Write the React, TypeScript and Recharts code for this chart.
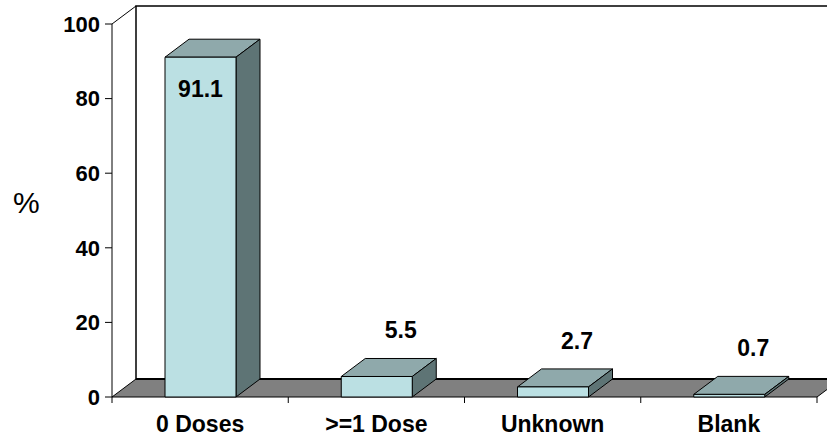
import React from 'react';
import { BarChart, Bar, XAxis, YAxis, ReferenceArea, LabelList } from 'recharts';

const categories = ['0 Doses', '>=1 Dose', 'Unknown', 'Blank'];
const percentValues = [91.1, 5.5, 2.7, 0.7];
const yTicks = [0, 20, 40, 60, 80, 100];
const yAxisLabel = '%';

const data = categories.map((c, i) => ({ name: c, value: percentValues[i] }));

const DX = 24;
const DY = -18;
const FONT = '"Liberation Sans", Arial, Helvetica, sans-serif';

function Bar3D(props: any) {
  const { x, y, width, height } = props;
  if (x == null || height == null) return null;
  const x2 = x + width;
  const yb = y + height;
  return (
    <g stroke="#000" strokeWidth={1} strokeLinejoin="round">
      <polygon
        points={`${x},${y} ${x + DX},${y + DY} ${x2 + DX},${y + DY} ${x2},${y}`}
        fill="#8FA9AB"
      />
      <polygon
        points={`${x2},${y} ${x2 + DX},${y + DY} ${x2 + DX},${yb + DY} ${x2},${yb}`}
        fill="#5E7475"
      />
      <rect x={x} y={y} width={width} height={height} fill="#BBE0E3" />
    </g>
  );
}

function Walls(props: any) {
  const { x, y, width, height } = props;
  if (x == null) return null;
  const yb = y + height;
  const xr = x + width;
  const n = categories.length;
  const ticks = [];
  for (let i = 0; i <= n; i++) {
    const tx = x + (i * width) / n;
    ticks.push(<line key={i} x1={tx} y1={yb} x2={tx} y2={yb + 6} stroke="#000" strokeWidth={1} />);
  }
  return (
    <g>
      <polygon
        points={`${x},${y} ${x + DX},${y + DY} ${x + DX},${yb + DY} ${x},${yb}`}
        fill="#fff"
        stroke="none"
      />
      <rect x={x + DX} y={y + DY} width={width} height={height} fill="#fff" stroke="#000" strokeWidth={1.5} />
      <polygon
        points={`${x},${yb} ${xr},${yb} ${xr + DX},${yb + DY} ${x + DX},${yb + DY}`}
        fill="#808080"
        stroke="#000"
        strokeWidth={1}
      />
      <line x1={x + DX} y1={yb + DY} x2={xr + DX} y2={yb + DY} stroke="#000" strokeWidth={2} />
      <line x1={x} y1={y} x2={x + DX} y2={y + DY} stroke="#000" strokeWidth={1} />
      {ticks}
    </g>
  );
}

function ValueLabel(props: any) {
  const vb = props.viewBox && props.viewBox.x != null ? props.viewBox : props;
  const { x, y, width } = vb;
  const value = props.value;
  if (x == null) return null;
  const inside = value > 50;
  const cx = inside ? x + width / 2 : x + width / 2 + DX;
  const cy = inside ? y + 32 : y + DY - 28;
  return (
    <text
      x={cx}
      y={cy}
      textAnchor="middle"
      dominantBaseline="central"
      fontFamily={FONT}
      fontSize={23}
      fontWeight="bold"
      fill="#000"
    >
      {value}
    </text>
  );
}

function CategoryTick(props: any) {
  const { x, y, payload } = props;
  return (
    <text x={x} y={y} dy={35} textAnchor="middle" fontFamily={FONT} fontSize={23} fontWeight="bold" fill="#000">
      {payload.value}
    </text>
  );
}

export default function App() {
  return (
    <div style={{ position: 'absolute', left: 0, top: 0, width: 827, height: 437, background: '#fff' }}>
      <BarChart
        width={827}
        height={437}
        data={data}
        margin={{ top: 24, right: 10, left: 0, bottom: 0 }}
      >
        <ReferenceArea y1={0} y2={100} shape={<Walls />} ifOverflow="visible" />
        <XAxis
          dataKey="name"
          axisLine={false}
          tickLine={false}
          tickSize={0}
          tickMargin={0}
          height={40}
          interval={0}
          tick={<CategoryTick />}
        />
        <YAxis
          domain={[0, 100]}
          ticks={yTicks}
          width={112}
          axisLine={{ stroke: '#000', strokeWidth: 1 }}
          tickLine={{ stroke: '#000', strokeWidth: 1 }}
          tickSize={7}
          tickMargin={5}
          tick={{ fontFamily: FONT, fontSize: 22, fontWeight: 'bold', fill: '#000' }}
          label={{
            value: yAxisLabel,
            position: 'insideLeft',
            offset: 13,
            dy: -8,
            style: { fontFamily: FONT, fontSize: 30, fill: '#000' },
          }}
        />
        <Bar dataKey="value" barSize={71} shape={<Bar3D />} isAnimationActive={false}>
          <LabelList dataKey="value" content={<ValueLabel />} />
        </Bar>
      </BarChart>
    </div>
  );
}
